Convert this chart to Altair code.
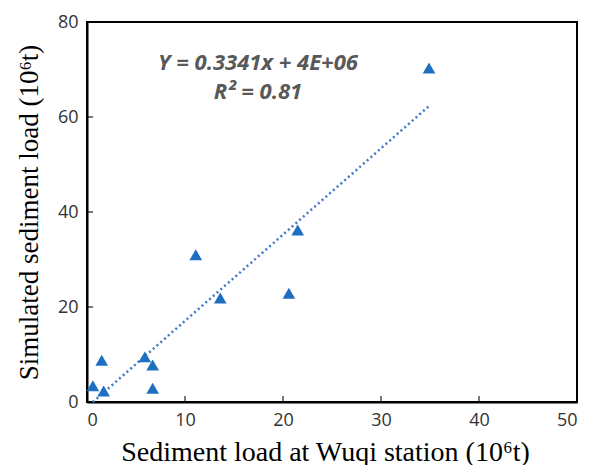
import altair as alt
import pandas as pd

# observed (Wuqi station) vs simulated sediment load, 10^6 t
observed = [0.6, 1.5, 1.7, 5.9, 6.7, 6.7, 11.1, 13.6, 20.6, 21.5, 34.9]
simulated = [3.4, 8.8, 2.3, 9.5, 7.8, 2.9, 31.0, 21.9, 22.9, 36.2, 70.3]

# linear trend line endpoints
trend_x = [0.6, 34.9]
trend_y = [0.0, 62.3]

x_ticks = [10, 20, 30, 40]
y_ticks = [20, 40, 60]

pts = pd.DataFrame({"obs": observed, "sim": simulated})
trend = pd.DataFrame({"obs": trend_x, "sim": trend_y})
xt = pd.DataFrame({"v": x_ticks})
yt = pd.DataFrame({"v": y_ticks})

W, H = 490, 380
xscale = alt.Scale(domain=[0, 50], nice=False, zero=True)
yscale = alt.Scale(domain=[0, 80], nice=False, zero=True)

label_font = "Open Sans"
title_font = "Liberation Serif"

x_axis = alt.Axis(
    values=[0, 10, 20, 30, 40, 50], ticks=False, grid=False,
    domainColor="black", domainWidth=2,
    labelFont=label_font, labelFontSize=18, labelColor="#333333", labelPadding=9,
    title="Sediment load at Wuqi station (10\u2076t)",
    titleFont=title_font, titleFontSize=28, titleFontWeight="normal", titleColor="black",
    titleY=58, titleBaseline="alphabetic", titleX=238,
)
y_axis = alt.Axis(
    values=[0, 20, 40, 60, 80], ticks=False, grid=False,
    domainColor="black", domainWidth=2,
    labelFont=label_font, labelFontSize=18, labelColor="#333333", labelPadding=9,
    title="Simulated sediment load (10\u2076t)",
    titleFont=title_font, titleFontSize=27, titleFontWeight="normal", titleColor="black",
    titleX=-50, titleBaseline="alphabetic",
)

line = alt.Chart(trend).mark_line(
    color="#3f78c8", strokeWidth=2.5, strokeDash=[2, 3]
).encode(
    x=alt.X("obs:Q", scale=xscale, axis=x_axis),
    y=alt.Y("sim:Q", scale=yscale, axis=y_axis),
)

points = alt.Chart(pts).mark_point(
    shape="triangle-up", filled=True, color="#1e6fc2", opacity=1, size=160
).encode(
    x=alt.X("obs:Q", scale=xscale),
    y=alt.Y("sim:Q", scale=yscale),
)

xticks = alt.Chart(xt).mark_tick(color="black", size=6, thickness=1.5).encode(
    x=alt.X("v:Q", scale=xscale),
    y=alt.value(H - 3),
)
yticks = alt.Chart(yt).mark_tick(color="black", size=6, thickness=1.5).encode(
    y=alt.Y("v:Q", scale=yscale),
    x=alt.value(3),
)

eq1 = alt.Chart(pd.DataFrame({"t": ["Y = 0.3341x + 4E+06"]})).mark_text(
    font=label_font, fontSize=22, fontWeight="bold", fontStyle="italic",
    color="#595959", align="center", baseline="alphabetic"
).encode(text="t:N", x=alt.value(171), y=alt.value(48))

eq2 = alt.Chart(pd.DataFrame({"t": ["R\u00b2 = 0.81"]})).mark_text(
    font=label_font, fontSize=22, fontWeight="bold", fontStyle="italic",
    color="#595959", align="center", baseline="alphabetic"
).encode(text="t:N", x=alt.value(171), y=alt.value(77))

chart = alt.layer(line, points, xticks, yticks, eq1, eq2).properties(
    width=W, height=H,
    background="white",
    autosize=alt.AutoSizeParams(type="none"),
    padding={"left": 79, "top": 14, "right": 12, "bottom": 70},
).configure_view(stroke="black", strokeWidth=2)

chart.save("out.html", embed_options={"renderer": "svg", "actions": False})
